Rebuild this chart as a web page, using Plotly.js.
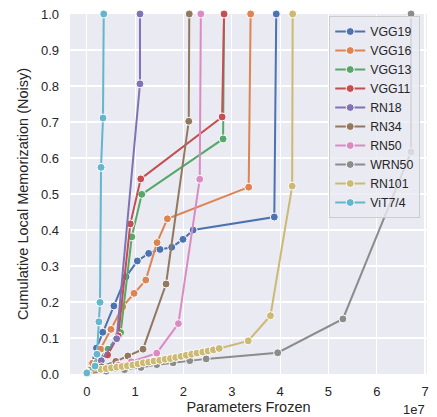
<!DOCTYPE html>
<html><head><meta charset="utf-8">
<script src="https://cdn.plot.ly/plotly-3.0.1.min.js"></script>
<style>html,body{margin:0;padding:0;background:#fff}#chart{width:437px;height:417px}</style>
</head><body><div id="chart"></div>
<script>
// x values in units of 1e7 parameters frozen
const names = ["VGG19","VGG16","VGG13","VGG11","RN18","RN34","RN50","WRN50","RN101","ViT7/4"];
const colors = ["#4C72B0","#DD8452","#55A868","#C44E52","#8172B3","#937860","#DA8BC3","#8C8C8C","#CCB974","#64B5CD"];

const vgg19_x = [0.01,0.10,0.20,0.33,0.56,0.81,1.046,1.28,1.515,1.757,1.99,2.20,3.88,3.92];
const vgg19_y = [0.003,0.03,0.072,0.116,0.189,0.27,0.314,0.335,0.346,0.352,0.374,0.40,0.436,1.0];

const vgg16_x = [0.01,0.12,0.287,0.50,0.743,0.977,1.22,1.453,1.667,3.35,3.39];
const vgg16_y = [0.003,0.03,0.069,0.124,0.187,0.224,0.261,0.365,0.431,0.519,1.0];

const vgg13_x = [0.01,0.20,0.44,0.70,0.93,1.137,2.82,2.84];
const vgg13_y = [0.003,0.03,0.069,0.115,0.381,0.499,0.653,1.0];

const vgg11_x = [0.01,0.20,0.43,0.65,0.90,1.116,2.80,2.84];
const vgg11_y = [0.003,0.02,0.053,0.106,0.417,0.542,0.714,1.0];

const rn18_x = [0.01,0.30,0.618,1.10,1.10];
const rn18_y = [0.003,0.037,0.098,0.806,1.0];

const rn34_x = [0.02,0.30,0.60,0.85,1.163,1.64,2.11,2.12];
const rn34_y = [0.003,0.02,0.035,0.05,0.069,0.25,0.702,1.0];

const rn50_x = [0.02,0.40,0.65,0.92,1.447,1.895,2.337,2.36];
const rn50_y = [0.003,0.015,0.025,0.034,0.058,0.14,0.541,1.0];

const wrn50_x = [0.0,0.40,0.78,1.12,1.447,1.785,2.13,2.47,3.95,5.30,6.71,6.71];
const wrn50_y = [0.002,0.008,0.012,0.018,0.026,0.031,0.037,0.042,0.059,0.153,0.617,1.0];

const rn101_x = [0.03,0.29,0.40,0.51,0.62,0.73,0.84,0.95,1.06,1.17,1.28,1.39,1.51,1.62,1.73,1.84,1.95,2.06,2.17,2.28,2.40,2.51,2.62,2.74,3.34,3.80,4.25,4.26];
const rn101_y = [0.004,0.013,0.015,0.017,0.019,0.021,0.023,0.025,0.028,0.031,0.033,0.036,0.038,0.041,0.043,0.046,0.049,0.052,0.055,0.058,0.061,0.064,0.067,0.071,0.092,0.162,0.522,1.0];

const vit_x = [0.0,0.17,0.21,0.25,0.273,0.294,0.335,0.35];
const vit_y = [0.003,0.022,0.055,0.145,0.199,0.574,0.711,1.0];

const xs = [vgg19_x,vgg16_x,vgg13_x,vgg11_x,rn18_x,rn34_x,rn50_x,wrn50_x,rn101_x,vit_x];
const ys = [vgg19_y,vgg16_y,vgg13_y,vgg11_y,rn18_y,rn34_y,rn50_y,wrn50_y,rn101_y,vit_y];

const xTickVals = [0,1,2,3,4,5,6,7];
const yTickVals = [0,0.1,0.2,0.3,0.4,0.5,0.6,0.7,0.8,0.9,1.0];

const FONT = "Liberation Sans, Arial, sans-serif";
const TXT = "#262626";

const traces = names.map((n,i)=>({
  type:"scatter", mode:"lines+markers", name:n,
  x: xs[i], y: ys[i],
  line:{color:colors[i], width:2},
  marker:{color:colors[i], size:8, line:{color:"#ffffff", width:1}},
  cliponaxis:false
}));

const layout = {
  width:437, height:417,
  margin:{l:70, r:10, t:14, b:43},
  paper_bgcolor:"#ffffff",
  plot_bgcolor:"#EAEAF2",
  font:{family:FONT, size:13, color:TXT},
  showlegend:true,
  legend:{
    x:0.981, xanchor:"right", y:0.9944, yanchor:"top",
    bgcolor:"rgba(234,234,242,0.8)", bordercolor:"#cccccc", borderwidth:1,
    font:{family:FONT, size:12.3, color:TXT},
    itemwidth:30, tracegroupgap:0
  },
  xaxis:{
    range:[-0.348,7.04], tickvals:xTickVals, ticktext:xTickVals.map(String),
    showgrid:true, gridcolor:"#ffffff", gridwidth:1.2, zeroline:false,
    showline:false, ticks:"", ticklabelstandoff:8,
    tickfont:{family:FONT, size:13, color:TXT},
    title:{text:"Parameters Frozen", font:{family:FONT, size:14.5, color:TXT}, standoff:2}
  },
  yaxis:{
    range:[0,1], tickvals:yTickVals, ticktext:yTickVals.map(v=>v.toFixed(1)),
    showgrid:true, gridcolor:"#ffffff", gridwidth:1.2, zeroline:false,
    showline:false, ticks:"", ticklabelstandoff:10,
    tickfont:{family:FONT, size:13, color:TXT},
    title:{text:"Cumulative Local Memorization (Noisy)", font:{family:FONT, size:14.5, color:TXT}, standoff:8}
  },
  annotations:[{
    text:"1e7", xref:"paper", yref:"paper", x:0.997, y:-0.098, xanchor:"right", yanchor:"middle",
    showarrow:false, borderpad:0, font:{family:FONT, size:13, color:TXT}
  }]
};

Plotly.newPlot("chart", traces, layout, {displayModeBar:false, staticPlot:true});
</script></body></html>
